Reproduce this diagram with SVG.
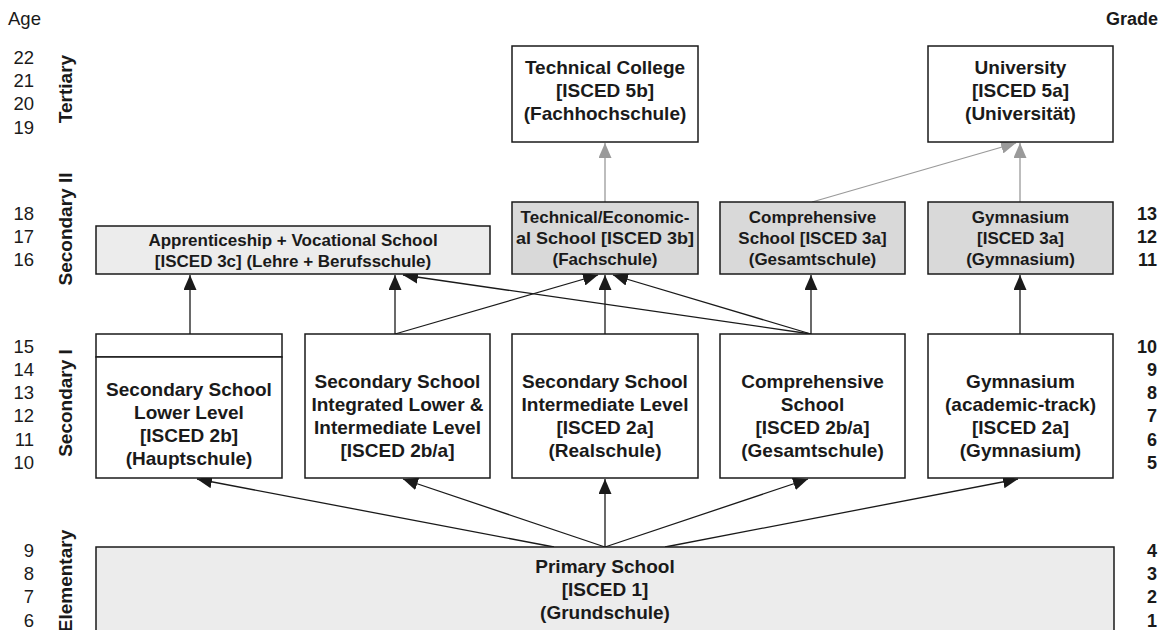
<svg xmlns="http://www.w3.org/2000/svg" width="1164" height="630" viewBox="0 0 1164 630">
<style>
text{font-family:"Liberation Sans",Arial,Helvetica,sans-serif;fill:#1a1a1a}
.age{font-size:18.5px;text-anchor:end}
.grade{font-size:18px;font-weight:bold;text-anchor:end}
.lvl{font-size:19px;font-weight:bold;text-anchor:middle}
.box{stroke:#1a1a1a;stroke-width:1.5}
.w{fill:#fff}
.lg{fill:#ececec}
.dg{fill:#d9d9d9}
.t19{font-size:19px;font-weight:bold;text-anchor:middle}
.t17{font-size:17px;font-weight:bold;text-anchor:middle}
.c{stroke:#1a1a1a;stroke-width:1.3;fill:none;marker-end:url(#ab)}
.g{stroke:#9a9a9a;stroke-width:1.3;fill:none;marker-end:url(#ag)}
</style>
<defs>
<marker id="ab" markerUnits="userSpaceOnUse" markerWidth="15" markerHeight="13" viewBox="0 0 15 13" refX="15" refY="6.5" orient="auto"><path d="M0,0 L15,6.5 L0,13 z" fill="#1a1a1a"/></marker>
<marker id="ag" markerUnits="userSpaceOnUse" markerWidth="15" markerHeight="13" viewBox="0 0 15 13" refX="15" refY="6.5" orient="auto"><path d="M0,0 L15,6.5 L0,13 z" fill="#9a9a9a"/></marker>
</defs>
<rect width="1164" height="630" fill="#fff"/>

<g id="axis">
<text x="8" y="25" style="font-size:18.5px">Age</text>
<text x="1158" y="25" style="font-size:18px;font-weight:bold;text-anchor:end">Grade</text>
<text class="age" x="34" y="64">22</text>
<text class="age" x="34" y="87">21</text>
<text class="age" x="34" y="110">20</text>
<text class="age" x="34" y="133.5">19</text>
<text class="age" x="34" y="220">18</text>
<text class="age" x="34" y="243">17</text>
<text class="age" x="34" y="266">16</text>
<text class="age" x="34" y="353">15</text>
<text class="age" x="34" y="376">14</text>
<text class="age" x="34" y="399">13</text>
<text class="age" x="34" y="422">12</text>
<text class="age" x="34" y="446">11</text>
<text class="age" x="34" y="469">10</text>
<text class="age" x="34" y="557">9</text>
<text class="age" x="34" y="580">8</text>
<text class="age" x="34" y="603">7</text>
<text class="age" x="34" y="627">6</text>
<text class="grade" x="1157" y="220">13</text>
<text class="grade" x="1157" y="243">12</text>
<text class="grade" x="1157" y="266">11</text>
<text class="grade" x="1157" y="353">10</text>
<text class="grade" x="1157" y="376">9</text>
<text class="grade" x="1157" y="399">8</text>
<text class="grade" x="1157" y="422">7</text>
<text class="grade" x="1157" y="446">6</text>
<text class="grade" x="1157" y="469">5</text>
<text class="grade" x="1157" y="557">4</text>
<text class="grade" x="1157" y="580">3</text>
<text class="grade" x="1157" y="603">2</text>
<text class="grade" x="1157" y="627">1</text>
<text class="lvl" transform="translate(72,89) rotate(-90)">Tertiary</text>
<text class="lvl" transform="translate(72,229) rotate(-90)">Secondary II</text>
<text class="lvl" transform="translate(72,403) rotate(-90)">Secondary I</text>
<text class="lvl" transform="translate(72,581) rotate(-90)">Elementary</text>
</g>

<g id="connectors">
<line class="c" x1="190" y1="357" x2="190" y2="275"/>
<line class="c" x1="395" y1="334" x2="395" y2="275"/>
<line class="c" x1="395" y1="334" x2="598" y2="275"/>
<line class="c" x1="605" y1="334" x2="605" y2="275"/>
<line class="c" x1="811" y1="334" x2="613" y2="275"/>
<line class="c" x1="811" y1="334" x2="403" y2="275"/>
<line class="c" x1="811" y1="334" x2="811" y2="275"/>
<line class="c" x1="1020" y1="334" x2="1020" y2="275"/>
<line class="c" x1="554" y1="547" x2="197" y2="479"/>
<line class="c" x1="605" y1="547" x2="403" y2="479"/>
<line class="c" x1="605" y1="547" x2="605" y2="479"/>
<line class="c" x1="605" y1="547" x2="808" y2="479"/>
<line class="c" x1="665" y1="547" x2="1018" y2="479"/>
<line class="g" x1="605" y1="202" x2="605" y2="143"/>
<line class="g" x1="812" y1="202" x2="1016" y2="143"/>
<line class="g" x1="1020" y1="202" x2="1020" y2="143"/>
</g>

<g id="technical-college">
<rect class="box w" x="512" y="46" width="186" height="96"/>
<text class="t19" x="605" y="74">Technical College</text>
<text class="t19" x="605" y="97">[ISCED 5b]</text>
<text class="t19" x="605" y="120">(Fachhochschule)</text>
</g>
<g id="university">
<rect class="box w" x="928" y="46" width="185" height="96"/>
<text class="t19" x="1020.5" y="74">University</text>
<text class="t19" x="1020.5" y="97">[ISCED 5a]</text>
<text class="t19" x="1020.5" y="120">(Universität)</text>
</g>

<g id="apprenticeship">
<rect class="box lg" x="96" y="226" width="394" height="48"/>
<text class="t17" x="293" y="246">Apprenticeship + Vocational School</text>
<text class="t17" x="293" y="267">[ISCED 3c] (Lehre + Berufsschule)</text>
</g>
<g id="fachschule">
<rect class="box dg" x="512" y="202" width="186" height="72"/>
<text class="t17" x="605" y="223">Technical/Economic-</text>
<text class="t17" x="605" y="244" textLength="178" lengthAdjust="spacingAndGlyphs">al School [ISCED 3b]</text>
<text class="t17" x="605" y="265">(Fachschule)</text>
</g>
<g id="gesamtschule-3a">
<rect class="box dg" x="720" y="202" width="185" height="72"/>
<text class="t17" x="812.5" y="223">Comprehensive</text>
<text class="t17" x="812.5" y="244">School [ISCED 3a]</text>
<text class="t17" x="812.5" y="265">(Gesamtschule)</text>
</g>
<g id="gymnasium-3a">
<rect class="box dg" x="928" y="202" width="185" height="72"/>
<text class="t17" x="1020.5" y="223">Gymnasium</text>
<text class="t17" x="1020.5" y="244">[ISCED 3a]</text>
<text class="t17" x="1020.5" y="265">(Gymnasium)</text>
</g>

<g id="hauptschule">
<rect class="box w" x="96" y="334" width="186" height="23"/>
<rect class="box w" x="96" y="357" width="186" height="121"/>
<text class="t19" x="189" y="396">Secondary School</text>
<text class="t19" x="189" y="419">Lower Level</text>
<text class="t19" x="189" y="442">[ISCED 2b]</text>
<text class="t19" x="189" y="465">(Hauptschule)</text>
</g>
<g id="integrated">
<rect class="box w" x="305" y="334" width="185" height="144"/>
<text class="t19" x="397.5" y="388">Secondary School</text>
<text class="t19" x="397.5" y="411">Integrated Lower &amp;</text>
<text class="t19" x="397.5" y="434">Intermediate Level</text>
<text class="t19" x="397.5" y="457">[ISCED 2b/a]</text>
</g>
<g id="realschule">
<rect class="box w" x="512" y="334" width="186" height="144"/>
<text class="t19" x="605" y="388">Secondary School</text>
<text class="t19" x="605" y="411">Intermediate Level</text>
<text class="t19" x="605" y="434">[ISCED 2a]</text>
<text class="t19" x="605" y="457">(Realschule)</text>
</g>
<g id="gesamtschule">
<rect class="box w" x="720" y="334" width="185" height="144"/>
<text class="t19" x="812.5" y="388">Comprehensive</text>
<text class="t19" x="812.5" y="411">School</text>
<text class="t19" x="812.5" y="434">[ISCED 2b/a]</text>
<text class="t19" x="812.5" y="457">(Gesamtschule)</text>
</g>
<g id="gymnasium">
<rect class="box w" x="928" y="334" width="185" height="144"/>
<text class="t19" x="1020.5" y="388">Gymnasium</text>
<text class="t19" x="1020.5" y="411">(academic-track)</text>
<text class="t19" x="1020.5" y="434">[ISCED 2a]</text>
<text class="t19" x="1020.5" y="457">(Gymnasium)</text>
</g>

<g id="grundschule">
<rect class="box lg" x="96" y="547" width="1018" height="100"/>
<text class="t19" x="605" y="573">Primary School</text>
<text class="t19" x="605" y="596">[ISCED 1]</text>
<text class="t19" x="605" y="619">(Grundschule)</text>
</g>
</svg>
